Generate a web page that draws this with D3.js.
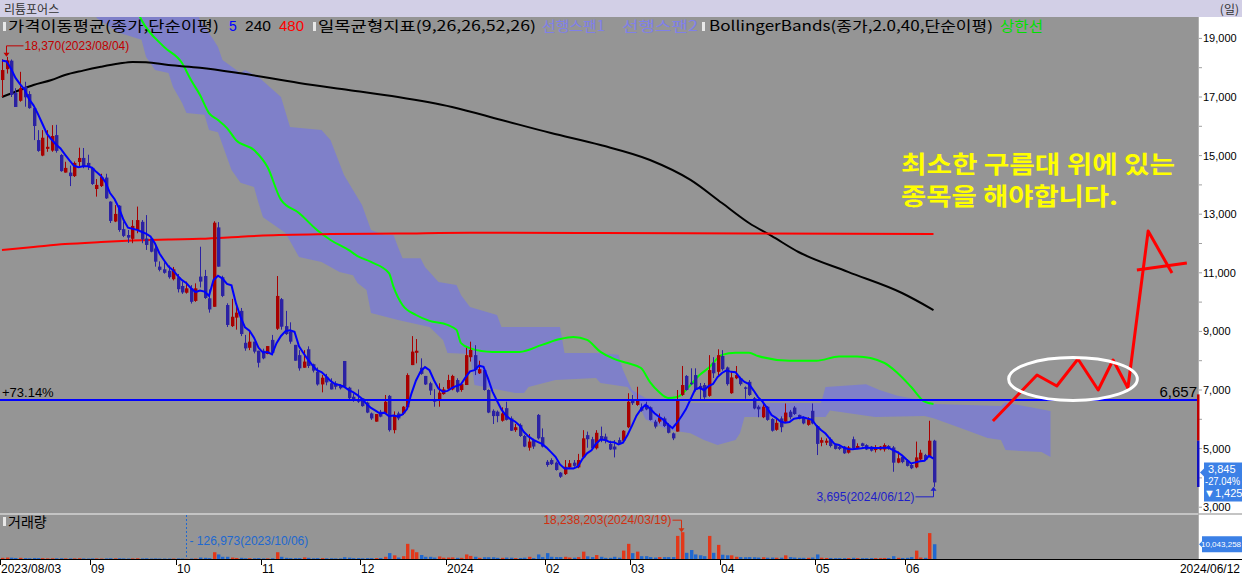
<!DOCTYPE html>
<html><head><meta charset="utf-8">
<script src="https://cdn.jsdelivr.net/npm/d3@7"></script>
<style>body{margin:0;background:#fff}svg{display:block}</style>
</head><body><svg id="c" width="1242" height="576"></svg>
<script>
// ---------- DATA ----------
const tradingDays = [
 ["2023/08",[3,4,7,8,9,10,11,14,16,17,18,21,22,23,24,25,28,29,30,31]],
 ["2023/09",[1,4,5,6,7,8,11,12,13,14,15,18,19,20,21,22,25,26,27]],
 ["2023/10",[4,5,6,10,11,12,13,16,17,18,19,20,23,24,25,26,27,30,31]],
 ["2023/11",[1,2,3,6,7,8,9,10,13,14,15,16,17,20,21,22,23,24,27,28,29,30]],
 ["2023/12",[1,4,5,6,7,8,11,12,13,14,15,18,19,20,21,22,26,27,28]],
 ["2024/01",[2,3,4,5,8,9,10,11,12,15,16,17,18,19,22,23,24,25,26,29,30,31]],
 ["2024/02",[1,2,5,6,7,8,13,14,15,16,19,20,21,22,23,26,27,28,29]],
 ["2024/03",[4,5,6,7,8,11,12,13,14,15,18,19,20,21,22,25,26,27,28,29]],
 ["2024/04",[1,2,3,4,5,8,9,11,12,15,16,17,18,19,22,23,24,25,26,29,30]],
 ["2024/05",[2,3,7,8,9,10,13,14,16,17,20,21,22,23,24,27,28,29,30,31]],
 ["2024/06",[3,4,5,7,10,11,12]]
];
const monthLabels = ["2023/08/03","09","10","11","12","2024","02","03","04","05","06"];
const lastDateLabel = "2024/06/12";

const opens = [17580,17950,18240,17140,16870,17350,17100,16620,15530,15000,
15230,15170,15700,15020,14420,14420,14300,14780,14920,14750,
14580,13860,13960,14250,13430,12750,13290,12490,12290,12160,
12460,12740,12170,12170,11830,11210,11120,11070,10780,10850,
10550,10320,10470,10040,10870,10890,10130,9840,12550,10850,
9900,9180,9470,9700,8610,8440,8650,8340,8340,8230,
8710,9090,10100,9180,8990,8540,8190,7760,8390,7880,
7620,7190,7450,7230,7230,7170,7990,7080,6770,6680,
6720,6570,6200,5920,6260,6200,6800,5630,6200,6200,
6410,7850,8270,7760,7480,7230,6680,6660,6860,7040,
7020,7340,7000,7170,8120,8190,7570,7680,7000,6290,
6260,5950,6380,6030,5630,5810,5430,5030,5290,6150,
5390,4550,4610,4520,4180,4130,4360,4520,4360,4700,
5460,5320,5010,5430,5410,5160,5070,5290,5270,5730,
6680,6490,6410,6490,6410,5920,5920,6030,5810,5520,
5580,6830,7480,7250,7510,7140,7170,6800,7930,7620,
8160,7770,6890,7400,7400,7090,7280,6720,6430,6070,
6430,6010,5640,6030,5920,6260,6400,6150,6070,5810,
6290,5770,5200,5200,5320,5120,5060,5070,4860,5320,
5010,5180,5120,5070,4950,4970,4970,5090,5040,4520,
4720,4590,4440,4360,4630,4780,4720,5270];
const highs = [18290,18370,18280,17300,17860,17520,17200,16650,15870,15870,
15870,16040,16050,15050,14790,14660,14800,15270,15260,15030,
14600,14200,14380,14380,13440,13310,13310,12750,12460,12800,
13260,12800,12970,12200,12000,11390,11360,11250,11200,10960,
10700,10700,10580,10640,11890,11100,10430,12760,12730,10900,
9960,10110,9870,9800,8880,9010,8650,8340,8410,8500,
8880,10890,10140,9700,9310,8540,8360,8360,8490,7900,
7770,7510,7550,7400,7300,7200,7990,7110,6880,7020,
6720,6600,6230,6180,6320,6830,6830,6270,6260,6450,
7570,8840,8740,8080,7480,7280,7030,7230,7100,7520,
7520,7400,7250,8440,8650,8530,8000,7750,7020,6340,
6300,6410,6600,6100,5840,5860,5470,5500,5340,6180,
5690,4610,4670,4560,4200,4610,4610,4610,4820,5630,
5580,5400,5630,5750,5510,5270,5290,5380,5630,6890,
6830,7110,6540,6600,6440,5980,6200,6090,5870,5550,
7000,7820,7510,7740,7740,7240,7240,8190,8120,8390,
8360,7800,7620,7820,7450,7120,7340,6760,6480,6600,
6450,6040,6010,6100,6540,6320,6450,6160,6100,6070,
6540,5800,5380,5350,5380,5170,5090,5090,5090,5410,
5180,5200,5150,5090,5120,5090,5180,5120,5090,4900,
4780,4640,4500,5240,4960,4820,5950,5300];
const lows = [17000,17800,17000,16660,16840,16670,16600,15530,15130,14980,
15130,15130,15100,14450,14420,13960,14270,14640,14570,14510,
14000,13600,13930,13520,12700,12730,12400,12220,12020,12010,
12350,12010,11780,11700,11210,11050,10970,10800,10740,10330,
10280,10290,9950,10010,10500,10110,9640,9840,11210,10170,
9150,9150,9060,8840,8340,8360,8250,7770,8050,8220,
8230,9050,9060,8880,8580,8000,7660,7760,7750,7600,
7150,6920,7160,7020,7020,7020,7080,6690,6600,6560,
6430,6210,5980,5920,6070,6200,5580,5520,5970,6150,
6360,7850,7910,7520,7170,6830,6430,6430,6840,7020,
6990,6910,6940,7170,7970,7510,7550,6980,6210,5840,
5900,5920,5960,5600,5570,5400,5050,4930,4990,5310,
5040,4380,4440,4250,4000,4100,4330,4380,4330,4670,
5030,4980,4970,5220,5180,4950,4700,5160,5240,5700,
6490,6460,6260,6310,5960,5690,5860,5740,5520,5290,
5580,6800,6980,7170,6950,6680,6660,6770,7410,7500,
7660,7150,6870,7370,7150,6700,6800,6340,6070,6040,
5950,5580,5610,5560,5880,6000,6150,6000,5830,5780,
5830,4780,5080,5120,5040,4970,4950,4820,4830,4980,
4980,5070,4950,4900,4870,4940,4900,4960,4210,4500,
4500,4390,4300,4330,4590,4590,4700,3695];
const closes = [17920,18250,17070,16660,17300,16990,16620,16010,15160,15610,
15300,15670,15160,14470,14580,14300,14750,14920,14620,14610,
14030,14000,14270,13540,12770,13010,12460,12260,12200,12600,
12800,12140,11950,11720,11380,11100,11000,10850,11120,10440,
10330,10470,10010,10470,10700,10140,9750,12710,11210,10210,
9220,9500,9640,8910,8420,8650,8310,7930,8080,8500,
8270,10210,9160,8910,8650,8000,7740,7970,7820,7660,
7190,7420,7260,7020,7110,7060,7110,6720,6630,6600,
6450,6230,6030,6180,6090,6600,5630,6150,6030,6430,
7510,8310,8340,7550,7190,6980,6600,6910,7020,7340,
7480,6940,7200,8190,8370,7680,7710,7000,6230,6110,
6110,6200,5980,5610,5730,5430,5070,5240,5070,5350,
5070,4440,4470,4270,4040,4380,4500,4410,4610,5350,
5320,5010,5540,5320,5290,4970,4970,5180,5610,6600,
6550,6680,6290,6340,5980,5750,6070,5770,5540,5350,
6680,7170,7000,7200,7000,7020,6750,7680,7570,8190,
7710,7200,7430,7510,7200,7040,6830,6370,6340,6430,
5980,5610,5880,5730,6230,6070,6180,6020,5860,6000,
5860,5160,5290,5270,5090,4990,4990,4840,5040,5010,
5090,5090,4970,4930,5040,5070,5120,5000,4520,4670,
4540,4410,4330,4700,4860,4610,5270,3845];
const prevCloses = [18400,18300,18250,18350]; // closes before 2023/08/03 (for MA5)
const volumes = [800000,1000000,900000,700000,800000,600000,500000,700000,600000,600000,
400000,500000,500000,500000,400000,400000,400000,500000,400000,300000,
400000,400000,300000,400000,500000,400000,500000,400000,300000,400000,
500000,400000,500000,300000,400000,300000,300000,300000,300000,400000,
300000,126973,300000,300000,1000000,800000,600000,4600000,3100000,1500000,
1500000,1000000,700000,800000,500000,500000,500000,600000,400000,400000,
500000,4600000,1500000,800000,600000,600000,600000,1100000,800000,500000,
600000,600000,500000,500000,400000,400000,1200000,900000,600000,600000,
500000,600000,600000,600000,700000,1500000,4000000,2500000,1000000,1900000,
10300000,6500000,4600000,2700000,1500000,1500000,1000000,1700000,900000,1000000,
1100000,800000,800000,3100000,2100000,1500000,800000,1200000,1200000,1200000,
800000,800000,1000000,900000,600000,700000,900000,1500000,700000,3100000,
1300000,4000000,1500000,1300000,1300000,1500000,1000000,900000,1300000,5000000,
1800000,1300000,2700000,1500000,800000,800000,1500000,900000,5700000,10300000,
4000000,5000000,1900000,1900000,1300000,1000000,1300000,1300000,1300000,1300000,
15700000,18238203,4200000,6100000,3100000,2500000,1900000,15700000,4200000,9600000,
2900000,2500000,2500000,1500000,1300000,1200000,1300000,1200000,1000000,1200000,
900000,1000000,900000,900000,2500000,1300000,1000000,800000,800000,800000,
1000000,3100000,900000,700000,700000,600000,600000,600000,600000,800000,
600000,600000,600000,600000,600000,600000,700000,700000,1900000,800000,
700000,800000,1300000,5700000,1000000,800000,17600000,10043258];

// moving averages: [day index, value]
const ma240 = [[0,17000],[4,17240],[7,17410],[11,17580],[14,17750],[18,17900],[22,18030],[26,18140],[29,18195],[32,18185],[37,18090],[44,18000],[53,17810],[66,17480],[77,17240],[88,17000],[100,16660],[111,16215],[122,15770],[133,15360],[144,14850],[153,14170],[160,13380],[166,12700],[171,12260],[177,11710],[188,11030],[200,10310],[207,9730]];
const ma480 = [[0,11780],[7,11880],[14,11980],[22,12050],[29,12100],[37,12140],[44,12160],[53,12230],[58,12270],[73,12320],[88,12340],[104,12370],[133,12360],[166,12340],[207,12320]];
const bbUpper = [[29,20300],[31,19630],[36,18710],[40,18160],[42,17580],[44,17070],[46,16450],[48,16215],[50,15940],[52,15530],[56,15190],[59,14610],[62,13490],[66,13040],[70,12460],[73,12120],[77,11780],[79,11570],[82,11370],[86,10990],[87,10520],[89,9900],[92,9560],[95,9360],[99,9220],[101,9050],[102,8600],[104,8430],[109,8300],[115,8300],[120,8540],[124,8740],[127,8810],[130,8710],[133,8300],[136,8060],[139,7920],[142,7750],[144,7270],[146,6930],[148,6730],[150,6760],[153,7170],[155,7510],[157,7750],[160,8200],[163,8270],[166,8270],[168,8160],[175,8000],[181,8000],[186,8140],[190,8140],[196,7930],[199,7580],[202,7110],[205,6600],[207,6520]];
// ichimoku leading spans (shifted 26 days ahead), [day index, value]
const span1 = [[21,20600],[42,20400],[44,19630],[47,18950],[48,18710],[49,18260],[53,17820],[54,17920],[57,17680],[62,17000],[64,15980],[71,15870],[73,15530],[76,14340],[80,13310],[82,12460],[85,12290],[87,12290],[88,11880],[89,11500],[93,11500],[94,11200],[97,10690],[101,10580],[102,10240],[104,9830],[110,9560],[111,9150],[124,9150],[125,8260],[132,8260],[137,8200],[138,7680],[140,7000],[143,6730],[149,6660],[153,6560],[182,6560],[183,7100],[192,7200],[195,7000],[199,6800],[205,6630],[207,6520],[222,6450],[223,6570],[233,6280]];
const span2 = [[21,19700],[26,19190],[31,18950],[32,18370],[34,17920],[37,17820],[38,17340],[40,16800],[41,16450],[45,16390],[46,15870],[48,15800],[51,14510],[53,14070],[56,13930],[57,13380],[58,12900],[63,12360],[66,11540],[71,11370],[75,11030],[78,10920],[79,10650],[81,10410],[82,9630],[88,9390],[95,9150],[98,8710],[99,8260],[104,8230],[105,7170],[114,6900],[116,6900],[117,7100],[123,7340],[132,7410],[133,7240],[139,7100],[140,6900],[141,6660],[143,6000],[148,5640],[153,5520],[156,5290],[159,5120],[163,5290],[164,5520],[165,6080],[183,6080],[184,6300],[194,6080],[205,6110],[207,6040],[213,5700],[219,5360],[222,5290],[223,4950],[231,4880],[233,4710]];

const priceTicks = [19000,17000,15000,13000,11000,9000,7000,5000,3000];
const refLine = 6657, refPct = "+73.14%";
const lastInfo = ["3,845","-27.04%","▼1,425"];
const limitUp = 6850, prevClose = 5270, limitDown = 3690;
const maxPrice = {i:1, v:18370, label:"18,370(2023/08/04)"};
const minPrice = {i:207, v:3695, label:"3,695(2024/06/12)"};
const maxVol = {i:151, label:"18,238,203(2024/03/19)"};
const minVol = {i:41, label:"- 126,973(2023/10/06)"};
const noteLines = ["최소한 구름대 위에 있는","종목을 해야합니다."];
// hand drawn sketch in (day index, price) space
const sketch = [[220.2,5942],[230,7512],[234.4,7137],[239.1,8058],[243.6,7000],[246.9,8024],[250.2,7068],[254.7,12427],[260,10993]];
const sketchBar = [[252.2,11096],[263.3,11335]];
const ellipseC = {i:238, v:7375, di:14.3, dv:730};

// ---------- DRAW ----------
const dates = [];
tradingDays.forEach(([ym, ds]) => ds.forEach(d => dates.push(ym + "/" + String(d).padStart(2,"0"))));
const N = closes.length;
const svg = d3.select("#c");
const KR = '"Noto Sans CJK KR","Noto Sans",sans-serif';
const NUM = '"Liberation Sans",Arial,sans-serif';
const xs = d3.scaleLinear().domain([0,266]).range([2,1199]);
const ys = d3.scaleLinear().domain([3000,19000]).range([507.2,38.4]);
const yv = d3.scaleLinear().domain([0,20400000]).range([559,529]);

function txt(g,x,y,s,o={}){const t=g.append("text").attr("x",x).attr("y",y).text(s)
 .attr("font-family",o.ff||KR).attr("font-size",o.fs||12).attr("fill",o.fill||"#000");
 if(o.anchor)t.attr("text-anchor",o.anchor); if(o.fw)t.attr("font-weight",o.fw);
 if(o.len)t.attr("textLength",o.len).attr("lengthAdjust","spacingAndGlyphs"); return t;}

svg.append("rect").attr("width",1242).attr("height",576).attr("fill","#fff");
svg.append("rect").attr("x",0).attr("y",0).attr("width",1242).attr("height",17).attr("fill","#D2CFE6");
txt(svg,4,14,"리튬포어스",{fs:12,fill:"#333"});
txt(svg,1239,14,"(일)",{fs:12,fill:"#333",anchor:"end"});

svg.append("rect").attr("x",0).attr("y",17).attr("width",1199).attr("height",496).attr("fill","#959595");
svg.append("rect").attr("x",0).attr("y",515).attr("width",1199).attr("height",44).attr("fill","#959595");
svg.append("rect").attr("x",0).attr("y",513).attr("width",1242).attr("height",2).attr("fill","#C4C4C4");
svg.append("line").attr("x1",1198.5).attr("x2",1198.5).attr("y1",17).attr("y2",559).attr("stroke","#B0B0B0");

const defs = svg.append("defs");
defs.append("clipPath").attr("id","pc").append("rect").attr("x",0).attr("y",17).attr("width",1199).attr("height",496);
defs.append("clipPath").attr("id","vc").append("rect").attr("x",0).attr("y",515).attr("width",1199).attr("height",44);
const pg = svg.append("g").attr("clip-path","url(#pc)");

// cloud
const cloudPts = span1.map(d=>[xs(d[0]),ys(d[1])]).concat(span2.slice().reverse().map(d=>[xs(d[0]),ys(d[1])]));
pg.append("path").attr("d",d3.line()(cloudPts)+"Z").attr("fill","#7F80C9");

const ln = d3.line().x(d=>xs(d[0])).y(d=>ys(d[1])).curve(d3.curveMonotoneX);
pg.append("path").attr("d",ln(bbUpper)).attr("fill","none").attr("stroke","#00FF00").attr("stroke-width",2);
pg.append("path").attr("d",ln(ma240)).attr("fill","none").attr("stroke","#000").attr("stroke-width",2);
pg.append("path").attr("d",ln(ma480)).attr("fill","none").attr("stroke","#FF0000").attr("stroke-width",2);

// candles
const UP="#A80000", DN="#2B22A3";
for(let i=0;i<N;i++){
  const o=opens[i],c=closes[i],col=c>=o?UP:DN, cx=Math.round(xs(i));
  pg.append("rect").attr("x",cx).attr("width",1).attr("y",ys(highs[i])).attr("height",Math.max(1,ys(lows[i])-ys(highs[i]))).attr("fill",col);
  const top=ys(Math.max(o,c)), bot=ys(Math.min(o,c));
  pg.append("rect").attr("x",cx-1).attr("width",3.4).attr("y",top).attr("height",Math.max(1.2,bot-top)).attr("fill",col);
}
// MA5
const all = prevCloses.concat(closes);
const ma5 = closes.map((c,i)=>[i, d3.mean(all.slice(i, i+5))]);
pg.append("path").attr("d",d3.line().x(d=>xs(d[0])).y(d=>ys(d[1]))(ma5)).attr("fill","none").attr("stroke","#0000FF").attr("stroke-width",2);

// reference line
pg.append("line").attr("x1",0).attr("x2",1199).attr("y1",ys(refLine)).attr("y2",ys(refLine)).attr("stroke","#0000FF").attr("stroke-width",2);
txt(svg,2,ys(refLine)-3,refPct,{ff:NUM,fs:13});
txt(svg,1197,ys(refLine)-3,d3.format(",")(refLine),{ff:NUM,fs:15,anchor:"end"});

// sketch annotations
pg.append("path").attr("d",d3.line().x(d=>xs(d[0])).y(d=>ys(d[1]))(sketch)).attr("fill","none").attr("stroke","#FF0000").attr("stroke-width",3).attr("stroke-linejoin","round");
pg.append("path").attr("d",d3.line().x(d=>xs(d[0])).y(d=>ys(d[1]))(sketchBar)).attr("fill","none").attr("stroke","#FF0000").attr("stroke-width",3);
pg.append("ellipse").attr("cx",xs(ellipseC.i)).attr("cy",ys(ellipseC.v))
  .attr("rx",xs(ellipseC.i+ellipseC.di)-xs(ellipseC.i)).attr("ry",ys(ellipseC.v-ellipseC.dv)-ys(ellipseC.v))
  .attr("fill","none").attr("stroke","#FFFFFF").attr("stroke-width",3);
txt(svg,901,173,noteLines[0],{fs:24,fw:"bold",fill:"#FFFF00",len:274});
txt(svg,901,205,noteLines[1],{fs:24,fw:"bold",fill:"#FFFF00",len:217});

// max/min price annotations
{const x=xs(maxPrice.i), y=ys(maxPrice.v);
 svg.append("path").attr("d",`M${x+17},${y-11}H${x}V${y-3}`).attr("fill","none").attr("stroke","#C00000");
 svg.append("path").attr("d",`M${x-3},${y-4}H${x+3}L${x},${y}Z`).attr("fill","#C00000");
 txt(svg,x+18,y-7,maxPrice.label,{ff:NUM,fs:12,fill:"#C00000"});}
{const x=xs(minPrice.i), y=ys(minPrice.v);
 svg.append("path").attr("d",`M${x-18},${y+10}H${x}V${y+3}`).attr("fill","none").attr("stroke","#1E1EC8");
 svg.append("path").attr("d",`M${x-3},${y+4}H${x+3}L${x},${y}Z`).attr("fill","#1E1EC8");
 txt(svg,x-19,y+14,minPrice.label,{ff:NUM,fs:12,fill:"#1E1EC8",anchor:"end"});}

// legend
function icon(x,y){svg.append("rect").attr("x",x).attr("y",y).attr("width",3).attr("height",9).attr("fill","#E8E8E8");}
icon(3,22); txt(svg,8,31,"가격이동평균(종가,단순이평)",{fs:14,len:211});
txt(svg,229,31,"5",{ff:NUM,fs:14,fill:"#0000FF"});
txt(svg,245,31,"240",{ff:NUM,fs:14,len:26});
txt(svg,279,31,"480",{ff:NUM,fs:14,fill:"#FF0000",len:25});
icon(313,22); txt(svg,318,31,"일목균형지표(9,26,26,52,26)",{fs:14,len:218});
txt(svg,542,31,"선행스팬1",{fs:14,fill:"#7F7FEA",len:63});
txt(svg,622,31,"선행스팬2",{fs:14,fill:"#7F7FEA",len:76});
icon(702,22); txt(svg,709,31,"BollingerBands(종가,2.0,40,단순이평)",{fs:14,len:284});
txt(svg,1000,31,"상한선",{fs:14,fill:"#00E000",len:43});

// right price axis
const ag = svg.append("g");
for(let v=3000; v<=19000; v+=1000){ag.append("line").attr("x1",1199).attr("x2",1202).attr("y1",ys(v)).attr("y2",ys(v)).attr("stroke","#A0A0A0");}
priceTicks.forEach(v=>txt(ag,1203,ys(v)+4,d3.format(",")(v),{ff:NUM,fs:11}));
svg.append("rect").attr("x",1197).attr("width",2.5).attr("y",ys(limitUp)).attr("height",ys(prevClose)-ys(limitUp)).attr("fill","#C00000");
svg.append("rect").attr("x",1197).attr("width",2.5).attr("y",ys(prevClose)).attr("height",ys(limitDown)-ys(prevClose)).attr("fill","#1010C0");
{const y=ys(closes[N-1]);
 svg.append("path").attr("d",`M1200,${y-10}L1204,${y-14}V${y-20}H1242V${y+19}H1204V${y-6}Z`).attr("fill","#3B80E6");
 txt(svg,1208,y-9,lastInfo[0],{ff:NUM,fs:11,fill:"#fff"});
 txt(svg,1205,y+3,lastInfo[1],{ff:NUM,fs:10,fill:"#fff",len:35});
 txt(svg,1204,y+15,lastInfo[2],{ff:NUM,fs:11,fill:"#fff"});}

// volume panel
const vg = svg.append("g").attr("clip-path","url(#vc)");
for(let i=0;i<N;i++){
  const col = closes[i]>=opens[i]?"#E2381A":"#2068D0";
  vg.append("rect").attr("x",Math.round(xs(i))-1).attr("width",3.4).attr("y",yv(volumes[i])).attr("height",Math.max(1,559-yv(volumes[i]))).attr("fill",col);
}
icon(3,517); txt(svg,8,527,"거래량",{fs:14});
{const x=xs(minVol.i);
 svg.append("line").attr("x1",x).attr("x2",x).attr("y1",515).attr("y2",559).attr("stroke","#2068D0").attr("stroke-dasharray","2,2");
 txt(svg,x+3,545,minVol.label,{ff:NUM,fs:12,fill:"#2068D0"});}
{const x=xs(maxVol.i), y=yv(volumes[maxVol.i]);
 svg.append("path").attr("d",`M${x-9},${y-12}H${x}V${y-3}`).attr("fill","none").attr("stroke","#D03010");
 svg.append("path").attr("d",`M${x-3},${y-4}H${x+3}L${x},${y}Z`).attr("fill","#D03010");
 txt(svg,x-10,y-8,maxVol.label,{ff:NUM,fs:12,fill:"#D03010",anchor:"end"});}
{const y=yv(volumes[N-1]);
 svg.append("path").attr("d",`M1199,${y}L1202,${y-3}V${y-8}H1242V${y+8}H1202V${y+3}Z`).attr("fill","#3B80E6");
 txt(svg,1201,y+3,d3.format(",")(volumes[N-1]),{ff:NUM,fs:8,fill:"#fff"});}

// x axis
svg.append("rect").attr("x",0).attr("y",559).attr("width",1242).attr("height",17).attr("fill","#fff");
svg.append("line").attr("x1",0).attr("x2",1242).attr("y1",559.5).attr("y2",559.5).attr("stroke","#000");
let mStart=0;
tradingDays.forEach(([ym,ds],k)=>{
  const x=Math.round(xs(mStart))-2;
  svg.append("line").attr("x1",x+0.5).attr("x2",x+0.5).attr("y1",560).attr("y2",565).attr("stroke","#000");
  txt(svg,x+1,573,monthLabels[k],{ff:NUM,fs:12});
  mStart+=ds.length;
});
txt(svg,1240,573,lastDateLabel,{ff:NUM,fs:12,anchor:"end"});
</script></body></html>
